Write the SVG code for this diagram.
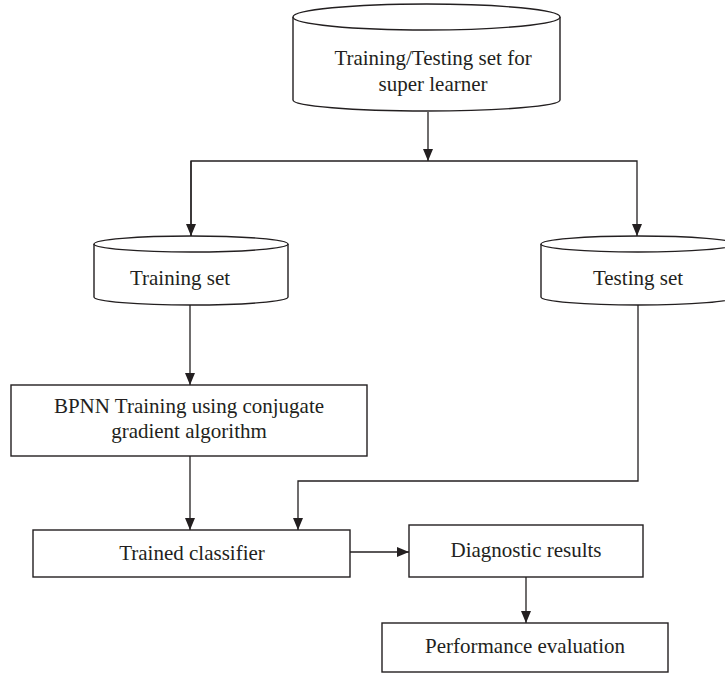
<svg xmlns="http://www.w3.org/2000/svg" width="725" height="674" viewBox="0 0 725 674">
<style>
.shape{fill:#fff;stroke:#231f20;stroke-width:1.4}
.conn{fill:none;stroke:#231f20;stroke-width:1.3}
text{font-family:"Liberation Serif","Times New Roman",serif;font-size:21px;fill:#231f20;text-anchor:middle}
</style>
<defs>
<marker id="arr" markerUnits="userSpaceOnUse" markerWidth="12" markerHeight="12" viewBox="0 0 12 12" refX="12" refY="6" orient="auto">
<path d="M0,1 L12,6 L0,11 z" fill="#231f20"/>
</marker>
</defs>
<rect width="725" height="674" fill="#fff"/>
<g id="connectors">
<path class="conn" d="M428,112 V161" marker-end="url(#arr)"/>
<path class="conn" d="M191,236 V161 H637 V236" marker-end="url(#arr)"/>
<path class="conn" d="M191,161 V236" marker-end="url(#arr)"/>
<path class="conn" d="M190,305 V385" marker-end="url(#arr)"/>
<path class="conn" d="M190,456 V530" marker-end="url(#arr)"/>
<path class="conn" d="M638,305 V481 H298 V530" marker-end="url(#arr)"/>
<path class="conn" d="M350,552 H409" marker-end="url(#arr)"/>
<path class="conn" d="M526,577 V623" marker-end="url(#arr)"/>
</g>
<g id="top-db">
<path class="shape" d="M293,17 A133.5,13 0 0 1 560,17 V100 A133.5,11 0 0 1 293,100 Z"/>
<path class="shape" d="M293,17 A133.5,13 0 0 0 560,17" fill="none"/>
<text x="433" y="65">Training/Testing set for</text>
<text x="433" y="91">super learner</text>
</g>
<g id="training-set">
<path class="shape" d="M94,244 A97,8 0 0 1 288,244 V297 A97,8 0 0 1 94,297 Z"/>
<path class="shape" d="M94,244 A97,8 0 0 0 288,244" fill="none"/>
<text x="180" y="285">Training set</text>
</g>
<g id="testing-set">
<path class="shape" d="M541,244 A97,8 0 0 1 735,244 V297 A97,8 0 0 1 541,297 Z"/>
<path class="shape" d="M541,244 A97,8 0 0 0 735,244" fill="none"/>
<text x="638" y="285">Testing set</text>
</g>
<g id="bpnn">
<rect class="shape" x="11" y="385" width="356" height="71"/>
<text x="189" y="413">BPNN Training using conjugate</text>
<text x="189" y="438">gradient algorithm</text>
</g>
<g id="trained-classifier">
<rect class="shape" x="33" y="530" width="317" height="47"/>
<text x="192" y="560">Trained classifier</text>
</g>
<g id="diagnostic-results">
<rect class="shape" x="409" y="525" width="234" height="52"/>
<text x="526" y="557">Diagnostic results</text>
</g>
<g id="performance-evaluation">
<rect class="shape" x="382" y="623" width="286" height="49"/>
<text x="525" y="653">Performance evaluation</text>
</g>
</svg>
